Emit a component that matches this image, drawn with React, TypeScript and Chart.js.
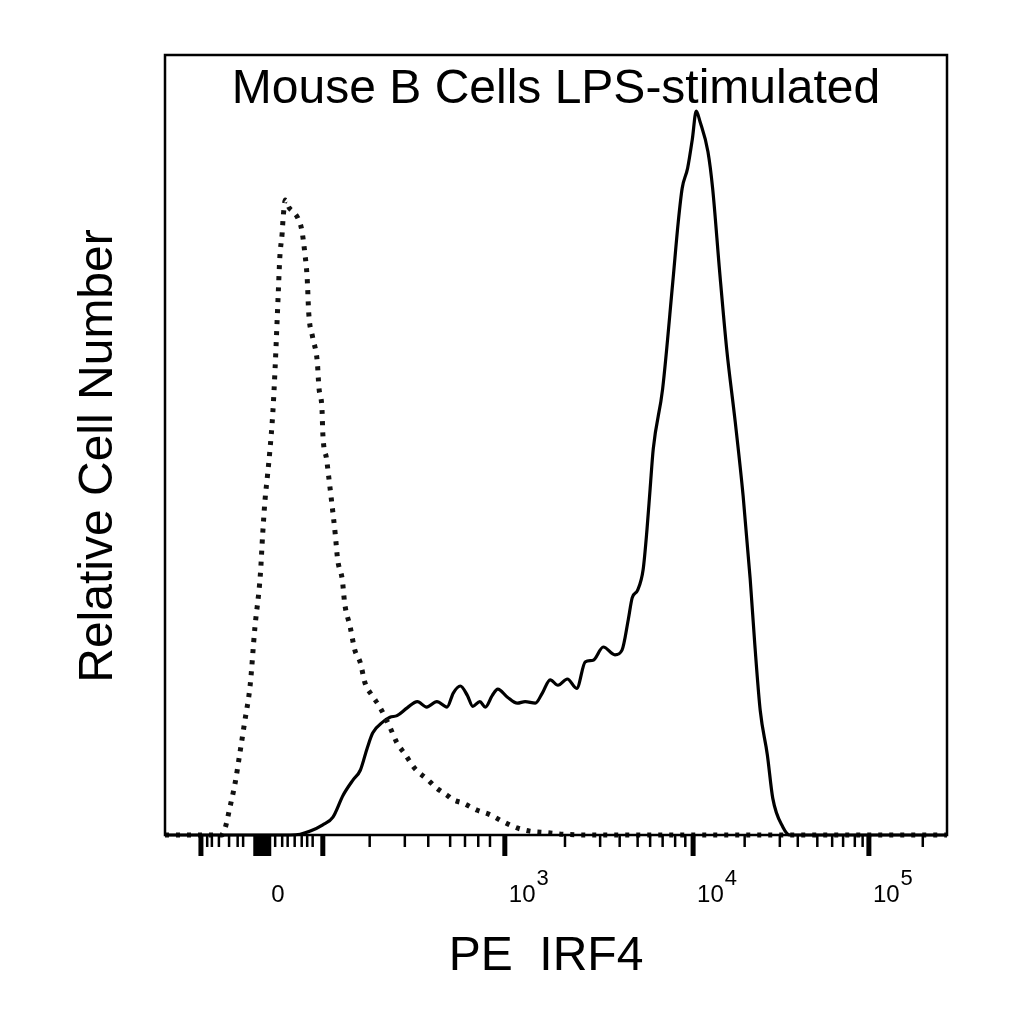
import { useEffect, useRef } from "react"
import { Chart, registerables } from "chart.js"

Chart.register(...registerables)

// x in display channels (0..1001 across the plot), y in relative cell number (0..100)
const solidX = [0, 160, 173, 186, 202, 215, 228, 241, 250, 259, 266, 279, 288, 297, 310, 323, 335, 348, 361, 369, 378, 387, 394, 403, 410, 419, 426, 438, 451, 461, 474, 483, 493, 503, 515, 527, 538, 548, 561, 576, 585, 593, 598, 605, 612, 617, 621, 625, 637, 650, 657, 662, 669, 675, 680, 685, 695, 701, 710, 719, 730, 740, 749, 755, 762, 771, 778, 791, 800, 1001]
const solidY = [0, 0, 0.1, 0.5, 1.3, 2.3, 5.1, 7.1, 8.3, 11.2, 13.1, 14.5, 15.1, 15.3, 16.3, 17.1, 16.4, 17.1, 16.4, 18.2, 19.1, 17.9, 16.5, 17.1, 16.4, 17.9, 18.7, 17.7, 16.9, 17.1, 16.9, 18.2, 19.9, 19.2, 20.0, 18.8, 22.2, 22.4, 24.1, 23.1, 23.7, 27.6, 30.4, 31.4, 34.0, 39.2, 44.4, 49.5, 57.2, 70.9, 78.6, 82.9, 85.5, 89.2, 92.8, 91.4, 87.6, 82.9, 72.2, 62.3, 52.9, 43.5, 32.9, 24.4, 15.9, 10.3, 4.7, 1.0, 0, 0]

const dottedX = [0, 73, 77, 83, 90, 96, 102, 109, 115, 122, 125, 128, 131, 134, 138, 141, 143, 145, 147, 150, 151, 154, 159, 164, 170, 175, 179, 182, 184, 189, 195, 197, 201, 202, 207, 209, 213, 218, 221, 227, 230, 237, 243, 250, 256, 265, 275, 288, 297, 307, 320, 335, 348, 361, 369, 381, 399, 416, 433, 451, 467, 489, 509, 544, 1001]
const dottedY = [0, 0, 0.9, 3.5, 6.8, 10.6, 14.5, 19.2, 26.5, 33.3, 38.5, 42.9, 45.9, 49.0, 54.1, 60.0, 64.7, 69.5, 74.1, 77.2, 78.8, 81.4, 80.4, 79.9, 79.1, 77.6, 74.6, 71.4, 66.9, 63.8, 60.6, 57.4, 54.5, 51.5, 48.1, 46.4, 43.0, 38.5, 35.3, 32.7, 29.7, 26.7, 23.7, 22.1, 19.5, 17.9, 16.4, 13.8, 11.8, 10.4, 8.5, 7.2, 6.0, 5.1, 4.5, 4.1, 3.2, 2.6, 1.7, 0.9, 0.5, 0.3, 0.1, 0, 0]

// biexponential axis decorations, in the same channel units
const majorTicks = [46, 202, 435, 676, 901]
const minorTicks = [54, 60, 69, 82, 93, 100, 141, 150, 157, 166, 175, 182, 189, 262, 307, 337, 365, 384, 401, 416, 512, 557, 582, 605, 621, 637, 653, 666, 742, 787, 810, 835, 854, 868, 883, 893, 970]
const zeroBand = [113, 136]
const tickLabelAt = [124, 435, 676, 901]
const tickLabelBase = ["0", "10", "10", "10"]
const tickLabelExp = ["", "3", "4", "5"]

const titleText = "Mouse B Cells LPS-stimulated"
const xTitle = "PE  IRF4"
const yTitle = "Relative Cell Number"

const FONT = "'Liberation Sans', Arial, Helvetica, sans-serif"

const facsFrame = {
  id: "facsFrame",
  afterDatasetsDraw(chart: Chart) {
    const { ctx, chartArea: a } = chart
    const x = chart.scales.x
    ctx.save()
    ctx.strokeStyle = "#000"
    ctx.fillStyle = "#000"

    // frame
    ctx.lineWidth = 2.5
    ctx.strokeRect(a.left, a.top, a.right - a.left, a.bottom - a.top)

    // ticks below the axis
    ctx.lineWidth = 2.5
    minorTicks.forEach((v) => {
      const px = x.getPixelForValue(v)
      ctx.beginPath()
      ctx.moveTo(px, a.bottom)
      ctx.lineTo(px, a.bottom + 12)
      ctx.stroke()
    })
    ctx.lineWidth = 5
    majorTicks.forEach((v) => {
      const px = x.getPixelForValue(v)
      ctx.beginPath()
      ctx.moveTo(px, a.bottom)
      ctx.lineTo(px, a.bottom + 21)
      ctx.stroke()
    })
    const b0 = x.getPixelForValue(zeroBand[0])
    const b1 = x.getPixelForValue(zeroBand[1])
    ctx.fillRect(b0, a.bottom, b1 - b0, 21)

    // tick labels
    ctx.textBaseline = "alphabetic"
    tickLabelAt.forEach((v, i) => {
      const px = x.getPixelForValue(v)
      const base = tickLabelBase[i]
      const exp = tickLabelExp[i]
      ctx.font = `24px ${FONT}`
      if (!exp) {
        ctx.textAlign = "center"
        ctx.fillText(base, px + 16, a.bottom + 67)
      } else {
        ctx.textAlign = "left"
        ctx.fillText(base, px + 4, a.bottom + 67)
        const w = ctx.measureText(base).width
        ctx.font = `22px ${FONT}`
        ctx.fillText(exp, px + 5 + w, a.bottom + 50)
      }
    })

    // title inside the plot
    ctx.font = `48px ${FONT}`
    ctx.textAlign = "center"
    ctx.fillText(titleText, (a.left + a.right) / 2, a.top + 48)

    // axis titles
    ctx.fillText(xTitle, 546, a.bottom + 135)
    ctx.translate(112, 456)
    ctx.rotate(-Math.PI / 2)
    ctx.fillText(yTitle, 0, 0)
    ctx.restore()
  },
}

export default function App() {
  const chartRef = useRef<HTMLCanvasElement>(null)
  const chartInstance = useRef<Chart | null>(null)

  useEffect(() => {
    document.body.style.margin = "0"
    if (!chartRef.current) return
    if (chartInstance.current) chartInstance.current.destroy()
    const ctx = chartRef.current.getContext("2d")
    if (!ctx) return

    chartInstance.current = new Chart(ctx, {
      type: "line",
      data: {
        datasets: [
          {
            label: "Isotype",
            data: dottedX.map((v, i) => ({ x: v, y: dottedY[i] })),
            borderColor: "#111",
            borderWidth: 5,
            borderDash: [4, 7],
            pointRadius: 0,
            cubicInterpolationMode: "monotone",
            clip: false,
          },
          {
            label: "IRF4",
            data: solidX.map((v, i) => ({ x: v, y: solidY[i] })),
            borderColor: "#000",
            borderWidth: 3.2,
            pointRadius: 0,
            cubicInterpolationMode: "monotone",
            clip: false,
          },
        ],
      },
      options: {
        animation: false,
        responsive: true,
        maintainAspectRatio: false,
        layout: { padding: { left: 165, top: 55, right: 77, bottom: 189 } },
        plugins: { legend: { display: false }, tooltip: { enabled: false } },
        scales: {
          x: { type: "linear", min: 0, max: 1001, display: false },
          y: { type: "linear", min: 0, max: 100, display: false },
        },
      },
      plugins: [facsFrame],
    })

    return () => {
      if (chartInstance.current) {
        chartInstance.current.destroy()
        chartInstance.current = null
      }
    }
  }, [])

  return (
    <div style={{ width: 1024, height: 1024, background: "#fff" }}>
      <canvas ref={chartRef} />
    </div>
  )
}
